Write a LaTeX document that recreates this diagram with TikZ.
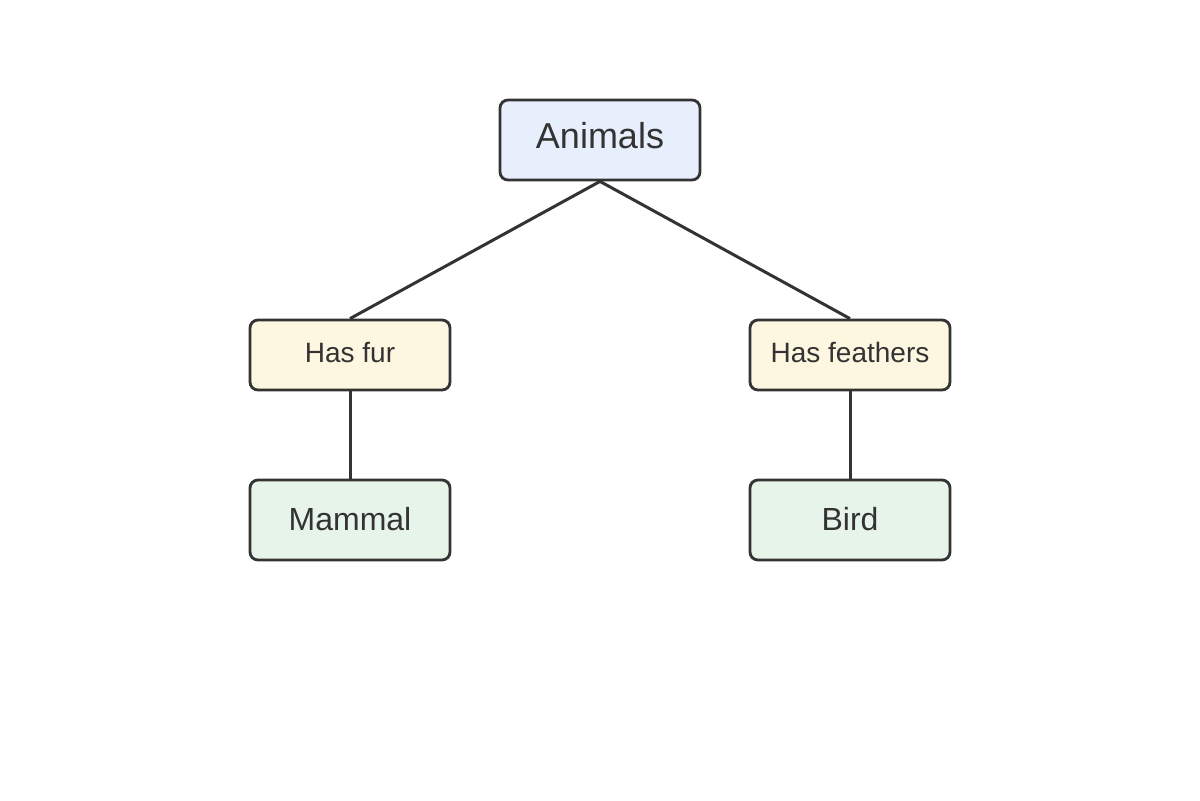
\documentclass[tikz,border=0pt]{standalone}
\usepackage{fontspec}
\setmainfont{Liberation Sans}
\definecolor{edgegray}{HTML}{333333}
\definecolor{rootfill}{HTML}{E8EFFC}
\definecolor{testfill}{HTML}{FDF6E0}
\definecolor{leaffill}{HTML}{E7F4E9}
\begin{document}
\begin{tikzpicture}[x=0.5pt,y=-0.5pt,
        box/.style={draw=edgegray,line width=1.4pt,rounded corners=4pt,minimum width=100pt,text=edgegray},
        rootbox/.style={box,fill=rootfill,minimum height=40pt,text depth=5pt,font=\fontsize{18}{21}\selectfont},
        testbox/.style={box,fill=testfill,minimum height=35pt,text depth=3pt,font=\fontsize{14}{17}\selectfont},
        leafbox/.style={box,fill=leaffill,minimum height=40pt,text depth=1.5pt,font=\fontsize{16}{19}\selectfont},
        link/.style={draw=edgegray,line width=1.5pt}]
        \useasboundingbox(0,0)rectangle(1200,800);

        \node[rootbox](animals)at(600,140){Animals};
        \node[testbox](fur)at(350,355){Has fur};
        \node[testbox](feathers)at(850,355){Has feathers};
        \node[leafbox](mammal)at(350,520){Mammal};
        \node[leafbox](bird)at(850,520){Bird};

        \draw[link](animals.south)--(fur.north);
        \draw[link](animals.south)--(feathers.north);
        \draw[link](fur.south)--(mammal.north);
        \draw[link](feathers.south)--(bird.north);
    \end{tikzpicture}
\end{document}
